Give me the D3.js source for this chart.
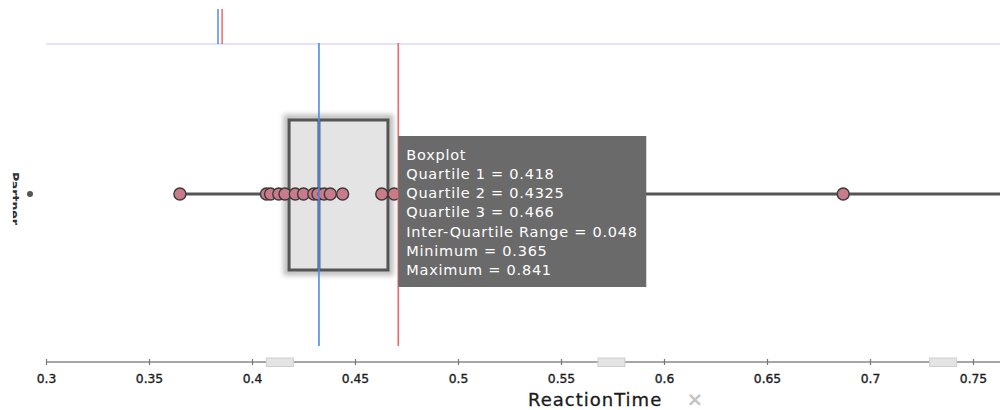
<!DOCTYPE html>
<html><head><meta charset="utf-8">
<script src="https://cdn.jsdelivr.net/npm/d3@7"></script>
<style>
html,body{margin:0;padding:0;background:#fff;}
svg{display:block;}
</style></head>
<body>
<svg id="chart" width="1000" height="410"></svg>
<script>
// ---- data ----
const categories = ["o"];
const reactionTimes = [0.365, 0.407, 0.409, 0.413, 0.416, 0.421, 0.425, 0.430, 0.432, 0.435, 0.438, 0.444, 0.463, 0.469, 0.687, 0.841];
const statLabels = ["Quartile 1", "Quartile 2", "Quartile 3", "Inter-Quartile Range", "Minimum", "Maximum"];
const statValues = [0.418, 0.4325, 0.466, 0.048, 0.365, 0.841];
const meanValue = [0.471];
const medianValue = [0.4325];
const topMarkers = [0.3835, 0.3855]; // median (blue), mean (red) in the top strip
const tickValues = [0.3, 0.35, 0.4, 0.45, 0.5, 0.55, 0.6, 0.65, 0.7, 0.75];
const handleValues = [0.4135, 0.5745, 0.7355];
const axisTitle = "ReactionTime";
const yTitle = "Partner";

const svg = d3.select("#chart");
const W = 1000, H = 410;
const FONT = "'DejaVu Sans', sans-serif";
const x = d3.scaleLinear().domain([0.3, 0.3 + 954 / 2060]).range([46, 1000]);
const y = d3.scalePoint().domain(categories).range([194, 194]);

const defs = svg.append("defs");
defs.append("filter").attr("id", "blur").attr("x", "-20%").attr("y", "-50%").attr("width", "140%").attr("height", "200%")
  .append("feGaussianBlur").attr("stdDeviation", 2.6);
defs.append("clipPath").attr("id", "ylab").append("rect").attr("x", 12.8).attr("y", 0).attr("width", 30).attr("height", H);
defs.append("clipPath").attr("id", "plot").append("rect").attr("x", 0).attr("y", 0).attr("width", W).attr("height", H);

// top strip
svg.append("line").attr("x1", x(0.3)).attr("x2", W).attr("y1", 44).attr("y2", 44)
  .attr("stroke", "#e2e2ff").attr("stroke-width", 2);
svg.selectAll(".topm").data(topMarkers).join("line")
  .attr("x1", d => x(d)).attr("x2", d => x(d)).attr("y1", 9).attr("y2", 44)
  .attr("stroke", (d, i) => i === 0 ? "#5b95ee" : "#f2716b").attr("stroke-width", 1.6);

const cy = y(categories[0]);
const stats = {q1: statValues[0], q2: statValues[1], q3: statValues[2], min: statValues[4], max: statValues[5]};

// whisker halo + line
const g = svg.append("g").attr("clip-path", "url(#plot)");
g.append("line").attr("x1", x(stats.min)).attr("x2", x(stats.max)).attr("y1", cy).attr("y2", cy)
  .attr("stroke", "#bdbdbd").attr("stroke-width", 12).attr("filter", "url(#blur)");
g.append("line").attr("x1", x(stats.min)).attr("x2", x(stats.max)).attr("y1", cy).attr("y2", cy)
  .attr("stroke", "#555").attr("stroke-width", 3);

// box with glow
const boxTop = 120, boxBot = 270;
g.append("rect").attr("x", x(stats.q1) - 2).attr("y", boxTop - 2)
  .attr("width", x(stats.q3) - x(stats.q1) + 4).attr("height", boxBot - boxTop + 4)
  .attr("fill", "none").attr("stroke", "#bdbdbd").attr("stroke-width", 7).attr("filter", "url(#blur)");
g.append("rect").attr("x", x(stats.q1)).attr("y", boxTop)
  .attr("width", x(stats.q3) - x(stats.q1)).attr("height", boxBot - boxTop)
  .attr("fill", "#e4e4e4").attr("stroke", "#555").attr("stroke-width", 3);
g.append("line").attr("x1", x(stats.q2)).attr("x2", x(stats.q2)).attr("y1", boxTop).attr("y2", boxBot)
  .attr("stroke", "#555").attr("stroke-width", 3);

// points
g.selectAll(".pt").data(reactionTimes).join("circle")
  .attr("cx", d => x(d)).attr("cy", cy).attr("r", 6)
  .attr("fill", "#c97b89").attr("stroke", "#3a3a3a").attr("stroke-width", 1.4);

// median & mean lines
svg.append("line").attr("x1", x(medianValue[0])).attr("x2", x(medianValue[0])).attr("y1", 43).attr("y2", 346)
  .attr("stroke", "#4a8ae8").attr("stroke-width", 1.6);
svg.append("line").attr("x1", x(meanValue[0])).attr("x2", x(meanValue[0])).attr("y1", 43).attr("y2", 346)
  .attr("stroke", "#f26a66").attr("stroke-width", 1.6);

// tooltip
const tip = svg.append("g").attr("transform", `translate(${x(meanValue[0])},136)`);
tip.append("rect").attr("width", 248).attr("height", 151).attr("fill", "#6a6a6a");
const lines = ["Boxplot"].concat(statLabels.map((l, i) => `${l} = ${statValues[i]}`));
tip.selectAll("text").data(lines).join("text")
  .attr("x", 8).attr("y", (d, i) => 23.5 + i * 19.3)
  .attr("fill", "#fff").attr("font-family", FONT).attr("font-size", 14.5)
  .attr("letter-spacing", 0.75)
  .text(d => d);

// y category mark and title
svg.append("circle").attr("cx", 30).attr("cy", cy).attr("r", 3).attr("fill", "#555");
svg.append("g").attr("clip-path", "url(#ylab)")
  .append("text").attr("transform", `translate(10,${172}) rotate(90)`)
  .attr("font-family", FONT).attr("font-size", 12.5).attr("font-weight", "bold")
  .attr("fill", "#333").text(yTitle);

// x axis
const axis = d3.axisBottom(x).tickValues(tickValues).tickFormat(d3.format("")).tickSize(3).tickPadding(9);
const ax = svg.append("g").attr("transform", "translate(0,362)").call(axis);
ax.select(".domain").attr("stroke", "#888").attr("stroke-width", 1.3).attr("d", `M${x(0.3)},0H${W}`);
ax.selectAll(".tick line").attr("y1", -3).attr("y2", 3).attr("stroke", "#777").attr("stroke-width", 1.2);
ax.selectAll(".tick text").attr("font-family", FONT).attr("font-size", 12.3)
  .attr("fill", "#1a1a1a").attr("stroke", "#1a1a1a").attr("stroke-width", 0.35);
svg.selectAll(".handle").data(handleValues).join("rect")
  .attr("x", d => x(d) - 13.5).attr("y", 358).attr("width", 27).attr("height", 8.5)
  .attr("fill", "#e4e4e4").attr("stroke", "#cfcfcf").attr("stroke-width", 1);

svg.append("text").attr("x", 528).attr("y", 406).attr("font-family", FONT)
  .attr("font-size", 18).attr("letter-spacing", 1).attr("fill", "#1a1a1a")
  .attr("stroke", "#1a1a1a").attr("stroke-width", 0.3).text(axisTitle);
svg.append("text").attr("x", 695).attr("y", 406).attr("text-anchor", "middle").attr("font-family", FONT)
  .attr("font-size", 20).attr("font-weight", "bold").attr("fill", "#c4c4c4").text("×");
</script>
</body></html>
